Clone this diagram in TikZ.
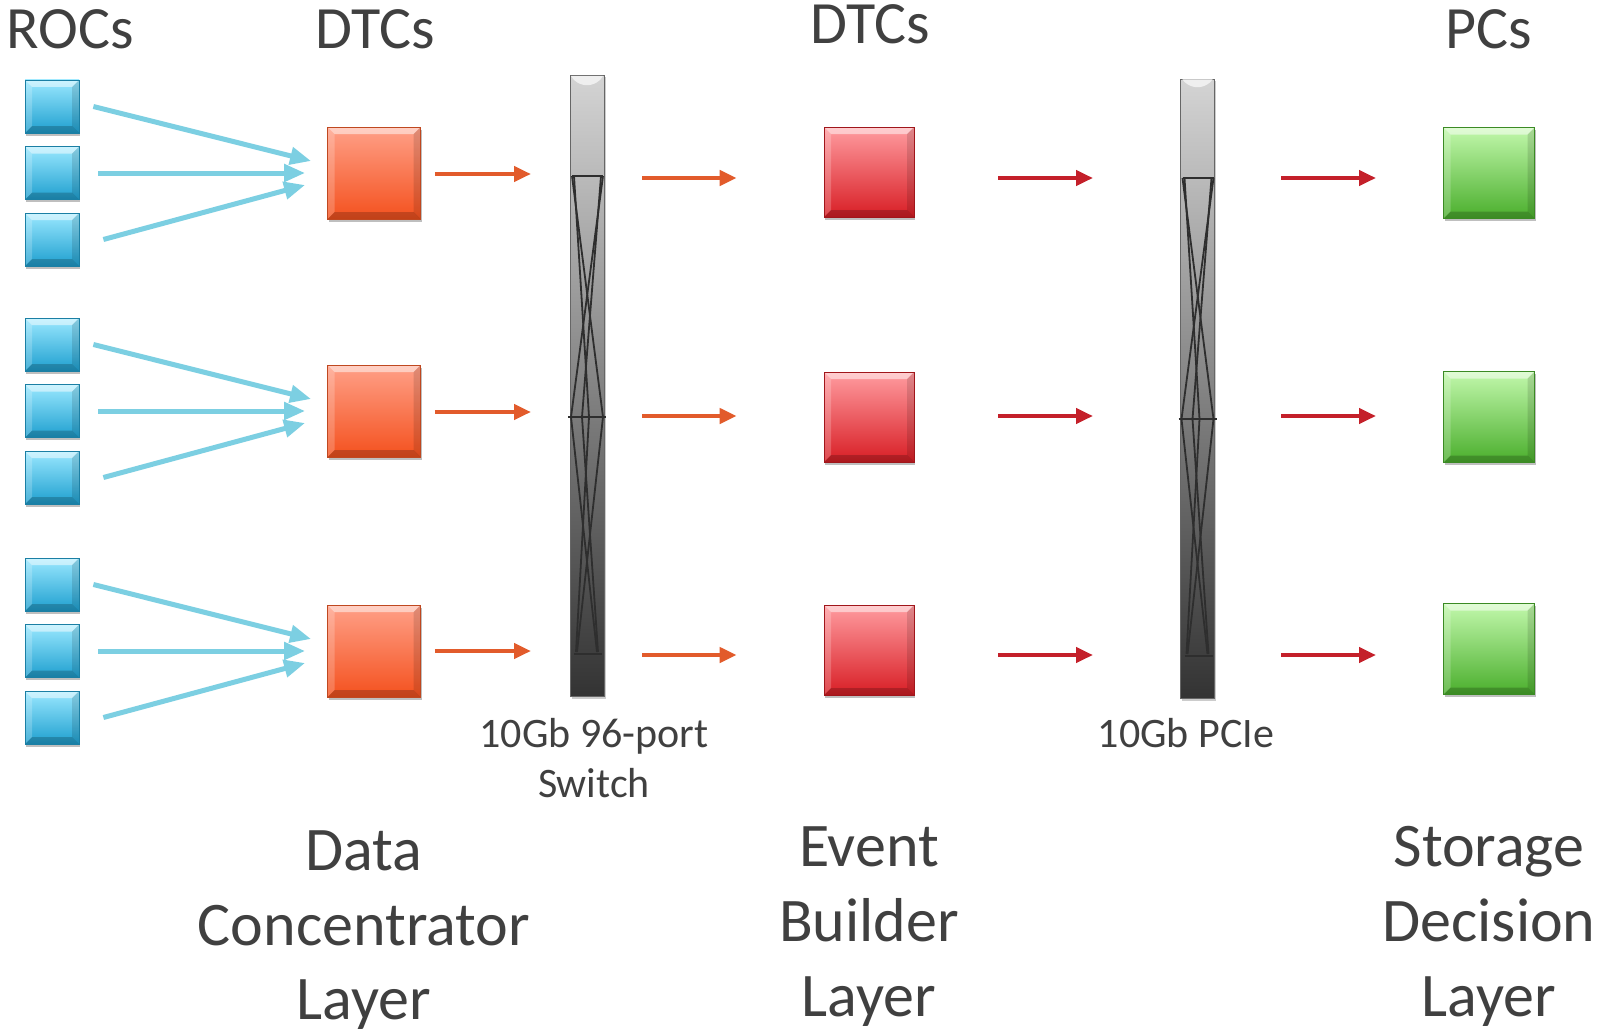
\documentclass[tikz,border=0pt]{standalone}
\usepackage{fontspec}
\setmainfont{Carlito}
\usetikzlibrary{arrows.meta,shadows}
\definecolor{txt}{HTML}{404040}
\definecolor{bluetop}{HTML}{9AE8FF}
\definecolor{bluebot}{HTML}{1E9FCF}
\definecolor{blueedge}{HTML}{1B7FA4}
\definecolor{orgtop}{HTML}{FFA088}
\definecolor{orgbot}{HTML}{F4511E}
\definecolor{orgedge}{HTML}{BF4820}
\definecolor{redtop}{HTML}{FF9CA0}
\definecolor{redbot}{HTML}{D81E25}
\definecolor{rededge}{HTML}{A0161B}
\definecolor{grntop}{HTML}{C2F8AC}
\definecolor{grnbot}{HTML}{4AAE2C}
\definecolor{grnedge}{HTML}{3B8A24}
\definecolor{barrow}{HTML}{7CCFE2}
\definecolor{oarrow}{HTML}{E25B2B}
\definecolor{rarrow}{HTML}{C4202A}
\definecolor{swline}{HTML}{2E2E2E}
\tikzset{
  cube/.style={rectangle, inner sep=0pt, line width=0.8pt,
    drop shadow={shadow xshift=1pt, shadow yshift=-2.5pt, opacity=0.25, fill=black},
    path picture={
      \path (path picture bounding box.south west) coordinate (pa)
            (path picture bounding box.north east) coordinate (pb);
      \fill[white,opacity=0.5] (pa |- pb) -- (pb) -- ([shift={(-7pt,-7pt)}]pb) -- ([shift={(7pt,-7pt)}]pa |- pb) -- cycle;
      \fill[white,opacity=0.2] (pa) -- (pa |- pb) -- ([shift={(7pt,-7pt)}]pa |- pb) -- ([shift={(7pt,7pt)}]pa) -- cycle;
      \fill[black,opacity=0.12] (pb |- pa) -- (pb) -- ([shift={(-7pt,-7pt)}]pb) -- ([shift={(-7pt,7pt)}]pb |- pa) -- cycle;
      \fill[black,opacity=0.2] (pa) -- (pb |- pa) -- ([shift={(-7pt,7pt)}]pb |- pa) -- ([shift={(7pt,7pt)}]pa) -- cycle;
    }},
  rocbox/.style={cube, minimum width=54pt, minimum height=53pt, top color=bluetop, bottom color=bluebot, draw=blueedge},
  dtcbox/.style={cube, minimum width=93pt, minimum height=92pt, top color=orgtop, bottom color=orgbot, draw=orgedge},
  evbbox/.style={cube, minimum width=90pt, minimum height=90pt, top color=redtop, bottom color=redbot, draw=rededge},
  pcbox/.style={cube, minimum width=91pt, minimum height=91pt, top color=grntop, bottom color=grnbot, draw=grnedge},
  switchbar/.style={rectangle, inner sep=0pt, minimum width=34pt, top color=black!17, middle color=black!45, bottom color=black!80, draw=black!60, line width=0.6pt,
    drop shadow={shadow xshift=1.5pt, shadow yshift=-2pt, opacity=0.2, fill=black}},
  swl/.style={draw=swline, line width=1.8pt},
  barr/.style={draw=barrow, line width=5pt, -{Triangle[length=21pt,width=17pt]}},
  oarr/.style={draw=oarrow, line width=4.5pt, -{Triangle[length=17pt,width=15pt]}},
  rarr/.style={draw=rarrow, line width=4.5pt, -{Triangle[length=17pt,width=15pt]}},
  ttl/.style={font=\fontsize{60}{72}\selectfont, text=txt, inner sep=0pt, anchor=base},
  lay/.style={font=\fontsize{62}{74}\selectfont, text=txt, inner sep=0pt, anchor=base},
  swlab/.style={font=\fontsize{42}{50}\selectfont, text=txt, inner sep=0pt, anchor=base},
}
\newcommand\swlinesdraw{%
  \draw[swl] (572,176) -- (603,176);
  \draw[swl] (568,417) -- (606,417);
  \draw[swl] (574,654) -- (602,654);
  \draw[swl] (572,176) -- (603,417);
  \draw[swl] (603,176) -- (571,417);
  \draw[swl] (574,176) -- (589,417);
  \draw[swl] (601,176) -- (582,417);
  \draw[swl] (571,417) -- (597,652);
  \draw[swl] (603,417) -- (577,652);
  \draw[swl] (582,417) -- (598,652);
  \draw[swl] (589,417) -- (576,652);
  \fill[white,opacity=0.65] (571,76) -- (603,76) -- (600,80) .. controls (592,87) and (582,87) .. (574,80) -- cycle;
}
\begin{document}
\begin{tikzpicture}[x=1pt,y=-1pt]
\useasboundingbox[fill=white] (0,0) rectangle (1599,1033);

% titles
\node[ttl] (tROC) at (70,49) {ROCs};
\node[ttl] (tDTC1) at (375,49) {DTCs};
\node[ttl] (tDTC2) at (870,44) {DTCs};
\node[ttl] (tPC) at (1489,49) {PCs};

% switches
\node[switchbar, minimum height=621pt] (sw1) at (587,386) {};
\swlinesdraw
\node[switchbar, minimum height=619pt] (sw2) at (1197.5,389) {};
\begin{scope}[shift={(610.5,2)}]
\swlinesdraw
\end{scope}

% ROC boxes
\foreach \g/\cy in {1/173,2/411,3/651}{
  \node[rocbox] (r\g a) at (52,\cy-66.5) {};
  \node[rocbox] (r\g b) at (52,\cy) {};
  \node[rocbox] (r\g c) at (52,\cy+66.5) {};
  \node[dtcbox] (o\g) at (374,\cy) {};
}
% event builder boxes
\node[evbbox] (e1) at (869,172) {};
\node[evbbox] (e2) at (869,417) {};
\node[evbbox] (e3) at (869,650) {};
% PCs
\node[pcbox] (p1) at (1489,173) {};
\node[pcbox] (p2) at (1489,417) {};
\node[pcbox] (p3) at (1489,649) {};

% blue arrows
\foreach \g in {1,2,3}{
  \draw[barr] ([xshift=14pt]r\g a.east) -- ([xshift=-16pt,yshift=12pt]o\g.west);
  \draw[barr] ([xshift=19pt]r\g b.east) -- ([xshift=-22pt]o\g.west);
  \draw[barr] ([xshift=24pt]r\g c.east) -- ([xshift=-22pt,yshift=-12pt]o\g.west);
}

% coordinates for free arrow ends
\coordinate (s1i1) at (531,174);
\coordinate (s1i2) at (531,412);
\coordinate (s1i3) at (531,651);
\coordinate (s1o1) at (642,178);
\coordinate (s1o2) at (642,416);
\coordinate (s1o3) at (642,655);
\coordinate (e1o) at (998,178);
\coordinate (e2o) at (998,416);
\coordinate (e3o) at (998,655);
\coordinate (s2i1) at (1093,178);
\coordinate (s2i2) at (1093,416);
\coordinate (s2i3) at (1093,655);
\coordinate (s2o1) at (1281,178);
\coordinate (s2o2) at (1281,416);
\coordinate (s2o3) at (1281,655);
\coordinate (p1i) at (1376,178);
\coordinate (p2i) at (1376,416);
\coordinate (p3i) at (1376,655);

\draw[oarr] ([xshift=14pt,yshift=-1pt]o1.east) -- (s1i1);
\draw[oarr] ([xshift=14pt,yshift=-1pt]o2.east) -- (s1i2);
\draw[oarr] ([xshift=14pt]o3.east) -- (s1i3);
\draw[oarr] (s1o1) -- ([xshift=-87pt]e1.west |- s1o1);
\draw[oarr] (s1o2) -- ([xshift=-87pt]e2.west |- s1o2);
\draw[oarr] (s1o3) -- ([xshift=-87pt]e3.west |- s1o3);
\draw[rarr] (e1o) -- (s2i1);
\draw[rarr] (e2o) -- (s2i2);
\draw[rarr] (e3o) -- (s2i3);
\draw[rarr] (s2o1) -- (p1i);
\draw[rarr] (s2o2) -- (p2i);
\draw[rarr] (s2o3) -- (p3i);

% switch labels
\node[swlab] (l1a) at (594,747) {10Gb 96-port};
\node[swlab] (l1b) at (594,797) {Switch};
\node[swlab] (l2a) at (1186,747) {10Gb PCIe};

% layer labels
\node[lay] (d1) at (364,870) {Data};
\node[lay] (d2) at (364,945) {Concentrator};
\node[lay] (d3) at (364,1019) {Layer};
\node[lay] (b1) at (869,866) {Event};
\node[lay] (b2) at (869,941) {Builder};
\node[lay] (b3) at (869,1016) {Layer};
\node[lay] (s1) at (1489,866) {Storage};
\node[lay] (s2) at (1489,941) {Decision};
\node[lay] (s3) at (1489,1016) {Layer};
\end{tikzpicture}
\end{document}
